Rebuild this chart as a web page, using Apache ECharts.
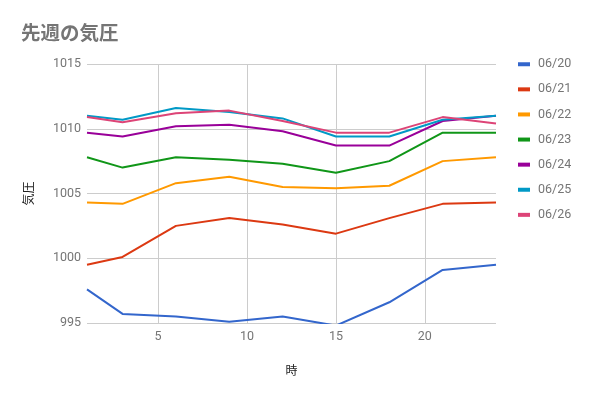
<!DOCTYPE html>
<html>
<head>
<meta charset="utf-8">
<script src="https://cdn.jsdelivr.net/npm/echarts@6/dist/echarts.min.js"></script>
<style>
html,body{margin:0;padding:0;background:#fff;}
#c{width:591px;height:397px;}
</style>
</head>
<body>
<div id="c"></div>
<script>
const titleText = '先週の気圧';
const xName = '時';
const yName = '気圧';
const hours = [1, 3, 6, 9, 12, 15, 18, 21, 24];
const xTicks = [5, 10, 15, 20];
const seriesNames = ['06/20', '06/21', '06/22', '06/23', '06/24', '06/25', '06/26'];
const d0620 = [997.6, 995.7, 995.5, 995.1, 995.5, 994.8, 996.6, 999.1, 999.5];
const d0621 = [999.5, 1000.1, 1002.5, 1003.1, 1002.6, 1001.9, 1003.1, 1004.2, 1004.3];
const d0622 = [1004.3, 1004.2, 1005.8, 1006.3, 1005.5, 1005.4, 1005.6, 1007.5, 1007.8];
const d0623 = [1007.8, 1007.0, 1007.8, 1007.6, 1007.3, 1006.6, 1007.5, 1009.7, 1009.7];
const d0624 = [1009.7, 1009.4, 1010.2, 1010.3, 1009.8, 1008.7, 1008.7, 1010.6, 1011.0];
const d0625 = [1011.0, 1010.7, 1011.6, 1011.3, 1010.8, 1009.4, 1009.4, 1010.7, 1011.0];
const d0626 = [1010.9, 1010.5, 1011.2, 1011.4, 1010.6, 1009.7, 1009.7, 1010.9, 1010.4];
const colors = ['#3366cc', '#dc3912', '#ff9900', '#109618', '#990099', '#0099c6', '#dd4477'];

const allData = [d0620, d0621, d0622, d0623, d0624, d0625, d0626];
const FONT = "Roboto, 'Noto Sans CJK JP', sans-serif";
const chart = echarts.init(document.getElementById('c'), null, {renderer: 'canvas'});
chart.setOption({
  animation: false,
  color: colors,
  textStyle: {fontFamily: FONT},
  title: {
    text: titleText,
    left: 16,
    top: 18,
    textStyle: {fontFamily: "'Noto Sans CJK JP', sans-serif", fontSize: 19.5, fontWeight: 'bold', color: '#757575'}
  },
  legend: {
    orient: 'vertical',
    left: 513,
    top: 53,
    icon: 'rect',
    itemWidth: 12,
    itemHeight: 4,
    itemGap: 12.6,
    textStyle: {fontFamily: FONT, fontSize: 12.5, color: '#757575', padding: [0, 0, 0, 3]},
    data: seriesNames
  },
  grid: {left: 87, right: 95, top: 64, bottom: 74, containLabel: false},
  xAxis: {
    type: 'value',
    min: 1,
    max: 24,
    name: xName,
    nameLocation: 'middle',
    nameGap: 41,
    nameTextStyle: {fontFamily: "'Noto Sans CJK JP', sans-serif", fontSize: 12, color: '#222'},
    axisLine: {show: false},
    axisTick: {show: false, customValues: xTicks},
    axisLabel: {color: '#757575', fontSize: 12.5, margin: 8, customValues: xTicks},
    splitLine: {show: true, lineStyle: {color: '#cccccc', width: 1}}
  },
  yAxis: {
    type: 'value',
    min: 995,
    max: 1015,
    interval: 5,
    name: yName,
    nameLocation: 'middle',
    nameGap: 53,
    nameRotate: 90,
    nameTextStyle: {fontFamily: "'Noto Sans CJK JP', sans-serif", fontSize: 12, color: '#222'},
    axisLine: {show: false},
    axisTick: {show: false},
    axisLabel: {color: '#757575', fontSize: 12.5, margin: 6, formatter: v => String(v)},
    splitLine: {show: true, lineStyle: {color: '#cccccc', width: 1}}
  },
  series: seriesNames.map((n, i) => ({
    name: n,
    type: 'line',
    data: hours.map((h, j) => [h, allData[i][j]]),
    showSymbol: false,
    symbol: 'none',
    clip: true,
    lineStyle: {width: 2},
    emphasis: {disabled: true}
  }))
});
</script>
</body>
</html>
